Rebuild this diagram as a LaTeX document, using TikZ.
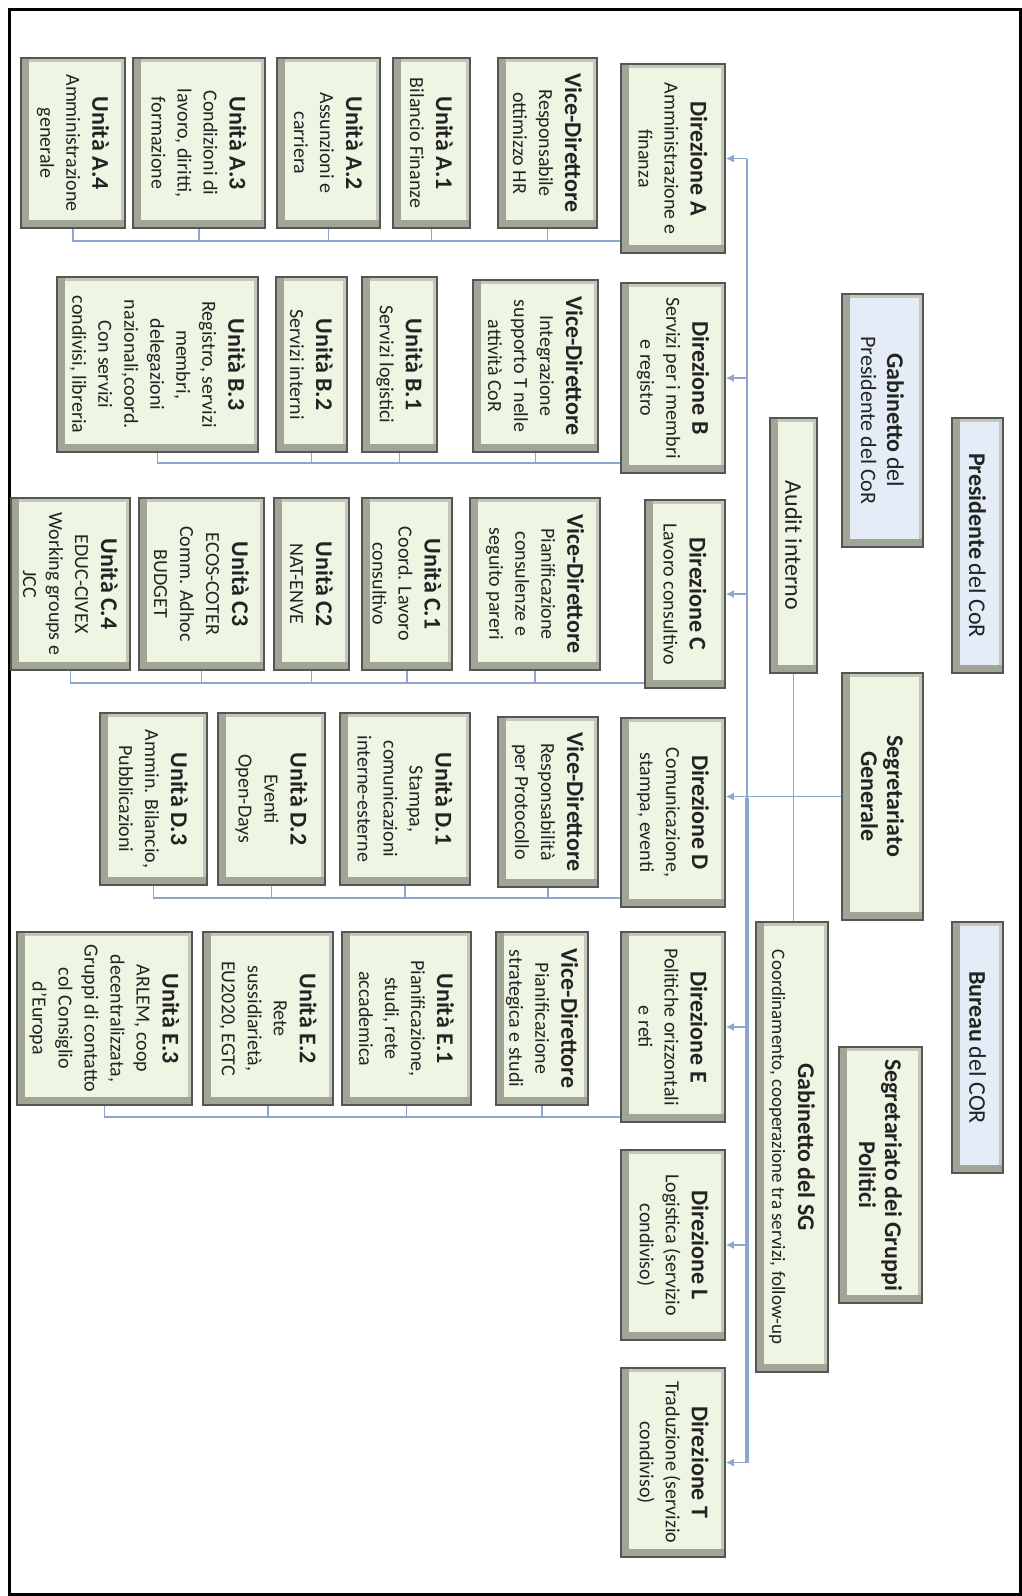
\documentclass[tikz,border=0pt]{standalone}
\usepackage{fontspec}
\setmainfont{Carlito}
\usetikzlibrary{arrows.meta}
\definecolor{conncol}{RGB}{140,166,206}
\definecolor{boxline}{RGB}{85,85,85}
\definecolor{greenfill}{RGB}{238,245,227}
\definecolor{bluefill}{RGB}{228,236,247}
\definecolor{bevel}{RGB}{195,200,186}
\definecolor{beveldark}{RGB}{160,165,150}
\definecolor{textc}{RGB}{35,35,35}
\newcommand\boxtitle[1]{{\fontsize{12}{14}\selectfont\bfseries #1}}
\newcommand\obox[7]{%
  \node[#1, minimum width={(#6-#4)*0.5pt}, minimum height={(#5-#3)*0.5pt}] (#2) at ({(#3+#5)/2},{(#4+#6)/2}) {#7};}
\tikzset{
  box/.style={rotate=-90, draw=boxline, line width=0.8pt, align=center, inner sep=1pt,
    text=textc, font=\fontsize{10}{13}\selectfont,
    path picture={
      \draw[bevel, line width=4pt] (path picture bounding box.south west) rectangle (path picture bounding box.north east);
      \draw[beveldark, line width=8pt] (path picture bounding box.north west) -- (path picture bounding box.south west) -- (path picture bounding box.south east);
    }},
  gbox/.style={box, fill=greenfill},
  bbox/.style={box, fill=bluefill},
  conn/.style={draw=conncol, line width=0.9pt},
  arr/.style={conn, -{Latex[length=4pt,width=4pt]}},
}
\begin{document}
\begin{tikzpicture}[x=0.5pt,y=-0.5pt]
\useasboundingbox (0,0) rectangle (1022,1596);
\draw[line width=1.5pt] (9,9) rectangle (1020,1594);

% top level
\obox{bbox}{pres}{952}{418}{1003}{673}{\boxtitle{Presidente} {\fontsize{12}{14}\selectfont del CoR}}
\obox{bbox}{gab}{842}{294}{923}{547}{\boxtitle{Gabinetto} {\fontsize{12}{14}\selectfont del}\\{\fontsize{11}{14}\selectfont Presidente del CoR}}
\obox{bbox}{bureau}{952}{922}{1003}{1173}{\boxtitle{Bureau} {\fontsize{12}{14}\selectfont del COR}}
\obox{gbox}{sg}{842}{673}{923}{920}{\boxtitle{Segretariato}\\\boxtitle{Generale}}
\obox{gbox}{sgp}{839}{1047}{922}{1303}{\boxtitle{Segretariato dei Gruppi}\\\boxtitle{Politici}}
\obox{gbox}{audit}{770}{418}{817}{673}{\fontsize{12}{14}\selectfont Audit interno}
\obox{gbox}{gsg}{756}{922}{828}{1372}{\boxtitle{Gabinetto del SG}\\{\fontsize{9.5}{12}\selectfont Coordinamento, cooperazione tra servizi, follow-up}}

% direzioni
\obox{gbox}{dirA}{621}{64}{725}{253}{\boxtitle{Direzione A}\\Amministrazione e\\finanza}
\obox{gbox}{dirB}{621}{283}{725}{473}{\boxtitle{Direzione B}\\Servizi per i membri\\e registro}
\obox{gbox}{dirC}{645}{500}{725}{688}{\boxtitle{Direzione C}\\Lavoro consultivo}
\obox{gbox}{dirD}{621}{718}{725}{907}{\boxtitle{Direzione D}\\Comunicazione,\\stampa, eventi}
\obox{gbox}{dirE}{621}{932}{725}{1122}{\boxtitle{Direzione E}\\Politiche orizzontali\\e reti}
\obox{gbox}{dirL}{621}{1150}{725}{1340}{\boxtitle{Direzione L}\\Logistica (servizio\\condiviso)}
\obox{gbox}{dirT}{621}{1368}{725}{1557}{\boxtitle{Direzione T}\\Traduzione (servizio\\condiviso)}

% units A
\obox{gbox}{a4}{21}{58}{125}{228}{\boxtitle{Unità A.4}\\Amministrazione\\generale}
\obox{gbox}{a3}{133}{58}{265}{228}{\boxtitle{Unità A.3}\\Condizioni di\\lavoro, diritti,\\formazione}
\obox{gbox}{a2}{277}{58}{380}{228}{\boxtitle{Unità A.2}\\Assunzioni e\\carriera}
\obox{gbox}{a1}{393}{58}{470}{228}{\boxtitle{Unità A.1}\\Bilancio Finanze}
\obox{gbox}{vda}{498}{58}{597}{228}{\boxtitle{Vice-Direttore}\\Responsabile\\ottimizzo HR}
% units B
\obox{gbox}{b3}{57}{277}{258}{452}{\boxtitle{Unità B.3}\\Registro, servizi\\membri,\\delegazioni\\nazionali,coord.\\Con servizi\\condivisi, libreria}
\obox{gbox}{b2}{276}{277}{347}{452}{\boxtitle{Unità B.2}\\Servizi interni}
\obox{gbox}{b1}{362}{277}{437}{452}{\boxtitle{Unità B.1}\\Servizi logistici}
\obox{gbox}{vdb}{473}{280}{598}{452}{\boxtitle{Vice-Direttore}\\Integrazione\\supporto T nelle\\attività CoR}
% units C
\obox{gbox}{c4}{11}{498}{130}{670}{\boxtitle{Unità C.4}\\EDUC-CIVEX\\Working groups e\\JCC}
\obox{gbox}{c3}{139}{498}{264}{670}{\boxtitle{Unità C3}\\ECOS-COTER\\Comm. Adhoc\\BUDGET}
\obox{gbox}{c2}{274}{498}{349}{670}{\boxtitle{Unità C2}\\NAT-ENVE}
\obox{gbox}{c1}{362}{498}{452}{670}{\boxtitle{Unità C.1}\\Coord. Lavoro\\consultivo}
\obox{gbox}{vdc}{470}{498}{600}{670}{\boxtitle{Vice-Direttore}\\Pianificazione\\consulenze e\\seguito pareri}
% units D
\obox{gbox}{d3}{100}{713}{207}{885}{\boxtitle{Unità D.3}\\Ammin. Bilancio,\\Pubblicazioni}
\obox{gbox}{d2}{218}{713}{325}{885}{\boxtitle{Unità D.2}\\Eventi\\Open-Days}
\obox{gbox}{d1}{340}{713}{470}{885}{\boxtitle{Unità D.1}\\Stampa,\\comunicazioni\\interne-esterne}
\obox{gbox}{vdd}{498}{717}{598}{887}{\boxtitle{Vice-Direttore}\\Responsabilità\\per Protocollo}
% units E
\obox{gbox}{e3}{17}{932}{192}{1105}{\boxtitle{Unità E.3}\\ARLEM, coop\\decentralizzata,\\Gruppi di contatto\\col Consiglio\\d'Europa}
\obox{gbox}{e2}{203}{932}{333}{1105}{\boxtitle{Unità E.2}\\Rete\\sussidiarietà,\\EU2020, EGTC}
\obox{gbox}{e1}{342}{932}{471}{1105}{\boxtitle{Unità E.1}\\Pianificazione,\\studi, rete\\accademica}
\obox{gbox}{vde}{496}{932}{588}{1105}{\boxtitle{Vice-Direttore}\\Pianificazione\\strategica e studi}

% connectors top
\coordinate (trunk) at (747,798);
\draw[arr] (sg.south) -- (sg.south -| dirD.north);
\draw[conn] (audit.east) -- (audit.east |- gsg.west);
\draw[conn] (trunk |- dirA.north) -- (trunk);
\draw[conn, line width=1.8pt] (trunk) -- (trunk |- dirT.north);
\foreach \d in {dirA,dirB,dirC,dirE,dirL,dirT}{
  \draw[arr] (trunk |- \d.north) -- (\d.north);
}

% brackets
\coordinate (lnA) at (0,241);
\coordinate (lnB) at (0,463);
\coordinate (lnC) at (0,683);
\coordinate (lnD) at (0,898);
\coordinate (lnE) at (0,1117);
\draw[conn] (a4.east) |- (dirA.south |- lnA);
\foreach \u in {a3,a2,a1,vda}{\draw[conn] (\u.east) -- (\u.east |- lnA);}
\draw[conn] (b3.east) |- (dirB.south |- lnB);
\foreach \u in {b2,b1,vdb}{\draw[conn] (\u.east) -- (\u.east |- lnB);}
\draw[conn] (c4.east) |- (dirC.south |- lnC);
\foreach \u in {c3,c2,c1,vdc}{\draw[conn] (\u.east) -- (\u.east |- lnC);}
\draw[conn] (d3.east) |- (dirD.south |- lnD);
\foreach \u in {d2,d1,vdd}{\draw[conn] (\u.east) -- (\u.east |- lnD);}
\draw[conn] (e3.east) |- (dirE.south |- lnE);
\foreach \u in {e2,e1,vde}{\draw[conn] (\u.east) -- (\u.east |- lnE);}
\end{tikzpicture}
\end{document}
